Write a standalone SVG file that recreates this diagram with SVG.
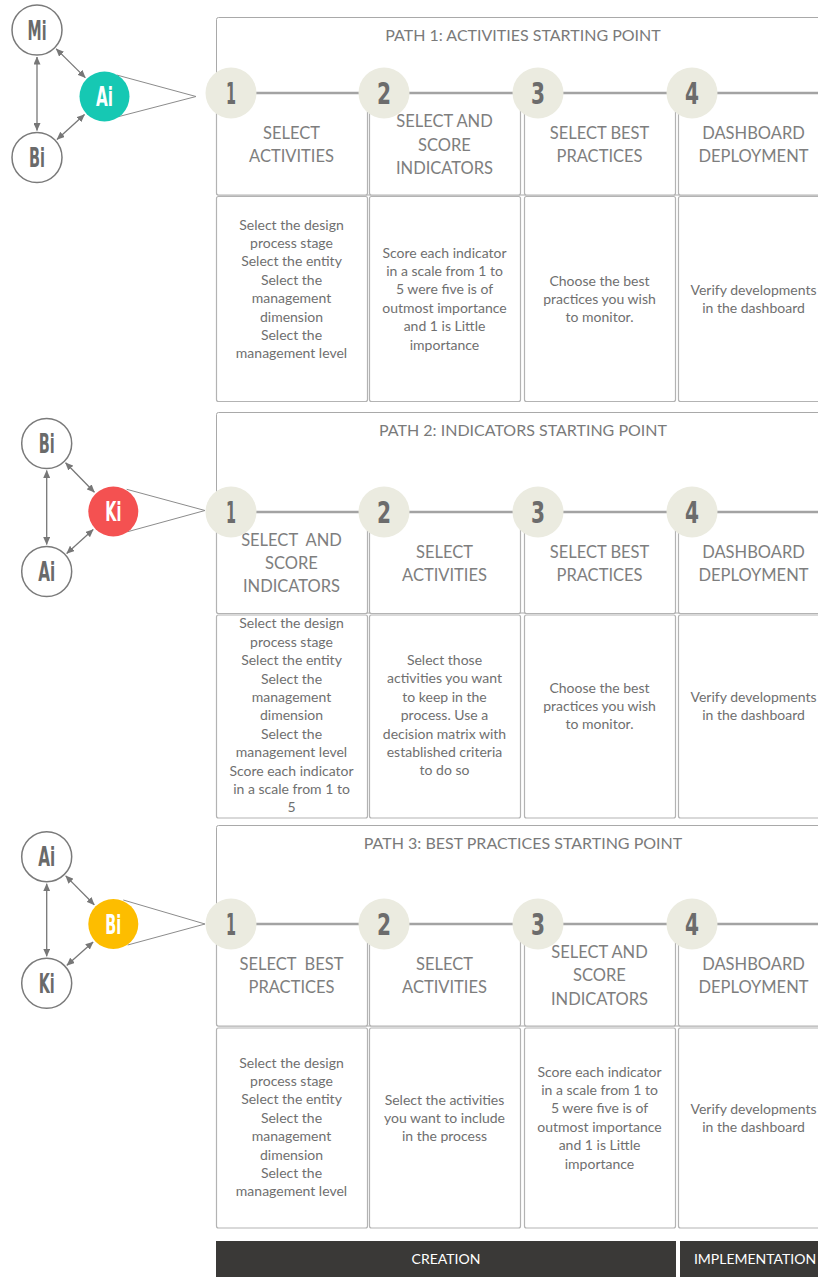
<svg xmlns="http://www.w3.org/2000/svg" width="818" height="1277" viewBox="0 0 818 1277">
  <defs>
    <marker id="arr" viewBox="0 0 8 7" refX="7.5" refY="3.5" markerWidth="8" markerHeight="7" markerUnits="userSpaceOnUse" orient="auto-start-reverse">
      <path d="M0,0 L8,3.5 L0,7 z" fill="#777777"/>
    </marker>
    <style>
      .frame{fill:#ffffff;stroke:#a9a9a9;stroke-width:1}
      .cell{fill:#ffffff;stroke:#b3b3b3;stroke-width:1.2}
      .track{stroke:#a3a3a3;stroke-width:2.5}
      .step{fill:#ebebe0}
      .num{font-family:"DejaVu Sans",sans-serif;font-weight:bold;font-size:30px;fill:#6c6c6c;text-anchor:middle}
      .title{font-family:Lato,"Liberation Sans",sans-serif;font-size:16px;fill:#7a7a7a;text-anchor:middle}
      .head{font-family:Lato,"Liberation Sans",sans-serif;font-size:16.5px;fill:#7e7e7e;text-anchor:middle}
      .body{font-family:Lato,"Liberation Sans",sans-serif;font-size:14px;fill:#6f6f6f;text-anchor:middle}
      .ring{fill:#ffffff;stroke:#7a7a7a;stroke-width:1.5}
      .lbl{font-family:"DejaVu Sans",sans-serif;font-weight:bold;font-size:26px;fill:#6a6a6a;text-anchor:middle}
      .lblw{font-family:"DejaVu Sans",sans-serif;font-weight:bold;font-size:26px;fill:#ffffff;text-anchor:middle}
      .edge{stroke:#777777;stroke-width:1.3;fill:none}
      .fan{stroke:#8c8c8c;stroke-width:1;fill:none}
      .bar{fill:#3a3937}
      .bartxt{font-family:Lato,"Liberation Sans",sans-serif;font-size:14px;fill:#ffffff;text-anchor:middle}
    </style>
  </defs>

  <!-- ============ PATH 1 ============ -->
  <g id="path1">
    <rect class="frame" x="216.5" y="17.5" width="640" height="177.5" rx="2"/>
    <text class="title" x="523" y="41">PATH 1: ACTIVITIES STARTING POINT</text>
    <g id="path1-heads">
      <rect class="cell" x="216.5" y="93" width="151" height="102" rx="2"/>
      <rect class="cell" x="369.5" y="93" width="151" height="102" rx="2"/>
      <rect class="cell" x="524.5" y="93" width="151" height="102" rx="2"/>
      <rect class="cell" x="678.5" y="93" width="170" height="102" rx="2"/>
      <text class="head" x="291.5" y="139">SELECT<tspan x="291.5" y="162">ACTIVITIES</tspan></text>
      <text class="head" x="444.5" y="127">SELECT AND<tspan x="444.5" y="151">SCORE</tspan><tspan x="444.5" y="174">INDICATORS</tspan></text>
      <text class="head" x="599.5" y="139">SELECT BEST<tspan x="599.5" y="162">PRACTICES</tspan></text>
      <text class="head" x="753.5" y="139">DASHBOARD<tspan x="753.5" y="162">DEPLOYMENT</tspan></text>
    </g>
    <g id="path1-bodies">
      <rect class="cell" x="216.5" y="196.5" width="151" height="205" rx="2"/>
      <rect class="cell" x="369.5" y="196.5" width="151" height="205" rx="2"/>
      <rect class="cell" x="524.5" y="196.5" width="151" height="205" rx="2"/>
      <rect class="cell" x="678.5" y="196.5" width="170" height="205" rx="2"/>
      <text class="body" x="291.5" y="229.5">Select the design<tspan x="291.5" dy="18.4">process stage</tspan><tspan x="291.5" dy="18.4">Select the entity</tspan><tspan x="291.5" dy="18.4">Select the</tspan><tspan x="291.5" dy="18.4">management</tspan><tspan x="291.5" dy="18.4">dimension</tspan><tspan x="291.5" dy="18.4">Select the</tspan><tspan x="291.5" dy="18.4">management level</tspan></text>
      <text class="body" x="444.5" y="257.5">Score each indicator<tspan x="444.5" dy="18.4">in a scale from 1 to</tspan><tspan x="444.5" dy="18.4">5 were five is of</tspan><tspan x="444.5" dy="18.4">outmost importance</tspan><tspan x="444.5" dy="18.4">and 1 is Little</tspan><tspan x="444.5" dy="18.4">importance</tspan></text>
      <text class="body" x="599.5" y="285.5">Choose the best<tspan x="599.5" dy="18.4">practices you wish</tspan><tspan x="599.5" dy="18.4">to monitor.</tspan></text>
      <text class="body" x="753.5" y="295">Verify developments<tspan x="753.5" dy="18.4">in the dashboard</tspan></text>
    </g>
    <g id="path1-steps">
      <line class="track" x1="231" y1="93" x2="818" y2="93"/>
      <circle class="step" cx="231" cy="93" r="25.5"/>
      <circle class="step" cx="384" cy="93" r="25.5"/>
      <circle class="step" cx="538" cy="93" r="25.5"/>
      <circle class="step" cx="692" cy="93" r="25.5"/>
      <text class="num" x="231" y="104" textLength="10" lengthAdjust="spacingAndGlyphs">1</text>
      <text class="num" x="384" y="104" textLength="14" lengthAdjust="spacingAndGlyphs">2</text>
      <text class="num" x="538" y="104" textLength="14" lengthAdjust="spacingAndGlyphs">3</text>
      <text class="num" x="692" y="104" textLength="14" lengthAdjust="spacingAndGlyphs">4</text>
    </g>
  </g>

  <!-- ============ PATH 2 ============ -->
  <g id="path2">
    <rect class="frame" x="216.5" y="412.5" width="640" height="200.5" rx="2"/>
    <text class="title" x="523" y="436">PATH 2: INDICATORS STARTING POINT</text>
    <g id="path2-heads">
      <rect class="cell" x="216.5" y="512" width="151" height="101.5" rx="2"/>
      <rect class="cell" x="369.5" y="512" width="151" height="101.5" rx="2"/>
      <rect class="cell" x="524.5" y="512" width="151" height="101.5" rx="2"/>
      <rect class="cell" x="678.5" y="512" width="170" height="101.5" rx="2"/>
      <text class="head" x="291.5" y="546" xml:space="preserve">SELECT  AND<tspan x="291.5" y="569">SCORE</tspan><tspan x="291.5" y="592">INDICATORS</tspan></text>
      <text class="head" x="444.5" y="558">SELECT<tspan x="444.5" y="581">ACTIVITIES</tspan></text>
      <text class="head" x="599.5" y="558">SELECT BEST<tspan x="599.5" y="581">PRACTICES</tspan></text>
      <text class="head" x="753.5" y="558">DASHBOARD<tspan x="753.5" y="581">DEPLOYMENT</tspan></text>
    </g>
    <g id="path2-bodies">
      <rect class="cell" x="216.5" y="615" width="151" height="203" rx="2"/>
      <rect class="cell" x="369.5" y="615" width="151" height="203" rx="2"/>
      <rect class="cell" x="524.5" y="615" width="151" height="203" rx="2"/>
      <rect class="cell" x="678.5" y="615" width="170" height="203" rx="2"/>
      <text class="body" x="291.5" y="628.3">Select the design<tspan x="291.5" dy="18.4">process stage</tspan><tspan x="291.5" dy="18.4">Select the entity</tspan><tspan x="291.5" dy="18.4">Select the</tspan><tspan x="291.5" dy="18.4">management</tspan><tspan x="291.5" dy="18.4">dimension</tspan><tspan x="291.5" dy="18.4">Select the</tspan><tspan x="291.5" dy="18.4">management level</tspan><tspan x="291.5" dy="18.4">Score each indicator</tspan><tspan x="291.5" dy="18.4">in a scale from 1 to</tspan><tspan x="291.5" dy="18.4">5</tspan></text>
      <text class="body" x="444.5" y="665">Select those<tspan x="444.5" dy="18.4">activities you want</tspan><tspan x="444.5" dy="18.4">to keep in the</tspan><tspan x="444.5" dy="18.4">process. Use a</tspan><tspan x="444.5" dy="18.4">decision matrix with</tspan><tspan x="444.5" dy="18.4">established criteria</tspan><tspan x="444.5" dy="18.4">to do so</tspan></text>
      <text class="body" x="599.5" y="692.5">Choose the best<tspan x="599.5" dy="18.4">practices you wish</tspan><tspan x="599.5" dy="18.4">to monitor.</tspan></text>
      <text class="body" x="753.5" y="701.5">Verify developments<tspan x="753.5" dy="18.4">in the dashboard</tspan></text>
    </g>
    <g id="path2-steps">
      <line class="track" x1="231" y1="512" x2="818" y2="512"/>
      <circle class="step" cx="231" cy="512" r="25.5"/>
      <circle class="step" cx="384" cy="512" r="25.5"/>
      <circle class="step" cx="538" cy="512" r="25.5"/>
      <circle class="step" cx="692" cy="512" r="25.5"/>
      <text class="num" x="231" y="523" textLength="10" lengthAdjust="spacingAndGlyphs">1</text>
      <text class="num" x="384" y="523" textLength="14" lengthAdjust="spacingAndGlyphs">2</text>
      <text class="num" x="538" y="523" textLength="14" lengthAdjust="spacingAndGlyphs">3</text>
      <text class="num" x="692" y="523" textLength="14" lengthAdjust="spacingAndGlyphs">4</text>
    </g>
  </g>

  <!-- ============ PATH 3 ============ -->
  <g id="path3">
    <rect class="frame" x="216.5" y="825.5" width="640" height="200.5" rx="2"/>
    <text class="title" x="523" y="849">PATH 3: BEST PRACTICES STARTING POINT</text>
    <g id="path3-heads">
      <rect class="cell" x="216.5" y="924" width="151" height="102" rx="2"/>
      <rect class="cell" x="369.5" y="924" width="151" height="102" rx="2"/>
      <rect class="cell" x="524.5" y="924" width="151" height="102" rx="2"/>
      <rect class="cell" x="678.5" y="924" width="170" height="102" rx="2"/>
      <text class="head" x="291.5" y="970" xml:space="preserve">SELECT  BEST<tspan x="291.5" y="993">PRACTICES</tspan></text>
      <text class="head" x="444.5" y="970">SELECT<tspan x="444.5" y="993">ACTIVITIES</tspan></text>
      <text class="head" x="599.5" y="958">SELECT AND<tspan x="599.5" y="981">SCORE</tspan><tspan x="599.5" y="1005">INDICATORS</tspan></text>
      <text class="head" x="753.5" y="970">DASHBOARD<tspan x="753.5" y="993">DEPLOYMENT</tspan></text>
    </g>
    <g id="path3-bodies">
      <rect class="cell" x="216.5" y="1028" width="151" height="200" rx="2"/>
      <rect class="cell" x="369.5" y="1028" width="151" height="200" rx="2"/>
      <rect class="cell" x="524.5" y="1028" width="151" height="200" rx="2"/>
      <rect class="cell" x="678.5" y="1028" width="170" height="200" rx="2"/>
      <text class="body" x="291.5" y="1067.5">Select the design<tspan x="291.5" dy="18.4">process stage</tspan><tspan x="291.5" dy="18.4">Select the entity</tspan><tspan x="291.5" dy="18.4">Select the</tspan><tspan x="291.5" dy="18.4">management</tspan><tspan x="291.5" dy="18.4">dimension</tspan><tspan x="291.5" dy="18.4">Select the</tspan><tspan x="291.5" dy="18.4">management level</tspan></text>
      <text class="body" x="444.5" y="1104.5">Select the activities<tspan x="444.5" dy="18.4">you want to include</tspan><tspan x="444.5" dy="18.4">in the process</tspan></text>
      <text class="body" x="599.5" y="1076.5">Score each indicator<tspan x="599.5" dy="18.4">in a scale from 1 to</tspan><tspan x="599.5" dy="18.4">5 were five is of</tspan><tspan x="599.5" dy="18.4">outmost importance</tspan><tspan x="599.5" dy="18.4">and 1 is Little</tspan><tspan x="599.5" dy="18.4">importance</tspan></text>
      <text class="body" x="753.5" y="1113.5">Verify developments<tspan x="753.5" dy="18.4">in the dashboard</tspan></text>
    </g>
    <g id="path3-steps">
      <line class="track" x1="231" y1="924" x2="818" y2="924"/>
      <circle class="step" cx="231" cy="924" r="25.5"/>
      <circle class="step" cx="384" cy="924" r="25.5"/>
      <circle class="step" cx="538" cy="924" r="25.5"/>
      <circle class="step" cx="692" cy="924" r="25.5"/>
      <text class="num" x="231" y="935" textLength="10" lengthAdjust="spacingAndGlyphs">1</text>
      <text class="num" x="384" y="935" textLength="14" lengthAdjust="spacingAndGlyphs">2</text>
      <text class="num" x="538" y="935" textLength="14" lengthAdjust="spacingAndGlyphs">3</text>
      <text class="num" x="692" y="935" textLength="14" lengthAdjust="spacingAndGlyphs">4</text>
    </g>
  </g>

  <!-- ============ connectors of the small triads ============ -->
  <g id="connectors">
    <!-- triad 1 -->
    <line class="edge" x1="37" y1="57" x2="37" y2="130.5" marker-start="url(#arr)" marker-end="url(#arr)"/>
    <line class="edge" x1="56.2" y1="48.9" x2="85.3" y2="77.6" marker-start="url(#arr)" marker-end="url(#arr)"/>
    <line class="edge" x1="57" y1="139.4" x2="84.5" y2="114.6" marker-start="url(#arr)" marker-end="url(#arr)"/>
    <polyline class="fan" points="116.7,75 196,96.5 118.3,116.7"/>
    <!-- triad 2 -->
    <line class="edge" x1="46.7" y1="470.5" x2="46.7" y2="544.5" marker-start="url(#arr)" marker-end="url(#arr)"/>
    <line class="edge" x1="65.6" y1="462.8" x2="94.4" y2="492.2" marker-start="url(#arr)" marker-end="url(#arr)"/>
    <line class="edge" x1="66.7" y1="553.4" x2="93.2" y2="529.6" marker-start="url(#arr)" marker-end="url(#arr)"/>
    <polyline class="fan" points="126.7,489.3 205,510.5 127.7,531.7"/>
    <!-- triad 3 -->
    <line class="edge" x1="46.7" y1="883.7" x2="46.7" y2="956.3" marker-start="url(#arr)" marker-end="url(#arr)"/>
    <line class="edge" x1="65.7" y1="875.9" x2="94.3" y2="904.8" marker-start="url(#arr)" marker-end="url(#arr)"/>
    <line class="edge" x1="66.9" y1="965.3" x2="93.1" y2="942" marker-start="url(#arr)" marker-end="url(#arr)"/>
    <polyline class="fan" points="123.3,900 205,924 127.7,945"/>
  </g>

  <!-- ============ triad nodes ============ -->
  <g id="t1-Mi"><circle class="ring" cx="37" cy="30" r="25"/><text class="lbl" x="37" y="39.5" textLength="19" lengthAdjust="spacingAndGlyphs">Mi</text></g>
  <g id="t1-Bi"><circle class="ring" cx="37" cy="157.5" r="25"/><text class="lbl" x="37" y="167" textLength="16" lengthAdjust="spacingAndGlyphs">Bi</text></g>
  <g id="t1-Ai"><circle cx="104.5" cy="96.5" r="25" fill="#16c8b3"/><text class="lblw" x="104.5" y="106" textLength="17" lengthAdjust="spacingAndGlyphs">Ai</text></g>

  <g id="t2-Bi"><circle class="ring" cx="46.7" cy="443.5" r="25"/><text class="lbl" x="46.7" y="453" textLength="16" lengthAdjust="spacingAndGlyphs">Bi</text></g>
  <g id="t2-Ai"><circle class="ring" cx="46.7" cy="571.5" r="25"/><text class="lbl" x="46.7" y="581" textLength="17" lengthAdjust="spacingAndGlyphs">Ai</text></g>
  <g id="t2-Ki"><circle cx="113.3" cy="511.5" r="25" fill="#f45151"/><text class="lblw" x="113.3" y="521" textLength="16" lengthAdjust="spacingAndGlyphs">Ki</text></g>

  <g id="t3-Ai"><circle class="ring" cx="46.7" cy="856.7" r="25"/><text class="lbl" x="46.7" y="866.2" textLength="17" lengthAdjust="spacingAndGlyphs">Ai</text></g>
  <g id="t3-Ki"><circle class="ring" cx="46.7" cy="983.3" r="25"/><text class="lbl" x="46.7" y="992.8" textLength="16" lengthAdjust="spacingAndGlyphs">Ki</text></g>
  <g id="t3-Bi"><circle cx="113.3" cy="924" r="25" fill="#fdbd00"/><text class="lblw" x="113.3" y="933.5" textLength="16" lengthAdjust="spacingAndGlyphs">Bi</text></g>

  <!-- ============ phase bar ============ -->
  <g id="phase-creation">
    <rect class="bar" x="216" y="1241" width="460" height="36"/>
    <text class="bartxt" x="446" y="1264">CREATION</text>
  </g>
  <g id="phase-implementation">
    <rect class="bar" x="680" y="1241" width="138" height="36"/>
    <text class="bartxt" x="755" y="1264">IMPLEMENTATION</text>
  </g>
</svg>
